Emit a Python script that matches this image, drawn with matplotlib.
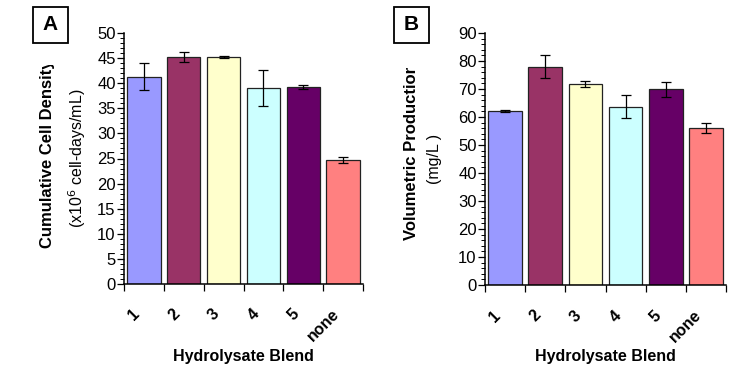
import matplotlib
matplotlib.use("Agg")
import matplotlib.pyplot as plt
from matplotlib.ticker import MultipleLocator
from matplotlib.patches import Rectangle
from matplotlib.transforms import Bbox

plt.rcParams['font.family'] = ['Liberation Sans', 'DejaVu Sans']

blends = ['1', '2', '3', '4', '5', 'none']
colors = ['#9999FF', '#993366', '#FFFFCC', '#CCFFFF', '#660066', '#FF8080']

# panel A: cumulative cell density
density = [41.3, 45.2, 45.2, 39.0, 39.2, 24.7]
density_err = [2.7, 0.95, 0.15, 3.55, 0.35, 0.6]

# panel B: volumetric production
production = [62.2, 78.0, 71.8, 63.7, 69.9, 56.0]
production_err = [0.3, 4.0, 1.0, 4.0, 2.65, 1.85]

fig = plt.figure(figsize=(7.39, 3.68), dpi=100)
W, H = 739, 368

def panel(left, right, top, bottom, vals, errs, ymax, major, minor,
          label, ylab1, ylab2, cy1, clip_top, x1, x2, box):
    ax = fig.add_axes([left / W, 1 - bottom / H, (right - left) / W, (bottom - top) / H])
    x = range(len(vals))
    ax.bar(x, vals, width=0.84, color=colors, edgecolor='#222222', linewidth=0.9, zorder=2)
    ax.errorbar(x, vals, yerr=errs, fmt='none', ecolor='black', elinewidth=0.9,
                capsize=3.5, capthick=0.9, zorder=3)
    ax.set_xlim(-0.5, len(vals) - 0.5)
    ax.set_ylim(0, ymax)
    ax.yaxis.set_major_locator(MultipleLocator(major))
    ax.yaxis.set_minor_locator(MultipleLocator(minor))
    ax.tick_params(axis='y', which='major', direction='out', length=5, width=0.9, labelsize=12, pad=1)
    ax.tick_params(axis='y', which='minor', direction='out', length=3, width=0.7)
    ax.set_xticks([i - 0.5 for i in range(len(vals) + 1)])
    ax.set_xticklabels([])
    ax.tick_params(axis='x', which='major', direction='out', length=5, width=0.9)
    for i, b in enumerate(blends):
        ax.text(i - 0.3, -0.09 * ymax, b, rotation=45, ha='right', va='top',
                rotation_mode='anchor', fontsize=11.5, fontweight='bold')
    for s in ['top', 'right']:
        ax.spines[s].set_visible(False)
    for s in ['left', 'bottom']:
        ax.spines[s].set_linewidth(1.1)
    fig.text((left + right) / 2 / W, 1 - 357 / H, 'Hydrolysate Blend', ha='center',
             va='center', fontsize=11.5, fontweight='bold')
    # y labels as two lines, first one clipped like the original text box
    t1 = fig.text(x1 / W, 1 - cy1 / H, ylab1, rotation=90, ha='center', va='center',
                  fontsize=12, fontweight='bold')
    t1.set_clip_box(Bbox.from_extents(0, 0, W, H - clip_top))
    t1.set_clip_on(True)
    fig.text(x2 / W, 1 - (top + bottom) / 2 / H, ylab2, rotation=90, ha='center',
             va='center', fontsize=11.5)
    fig.add_artist(Rectangle((box[0] / W, 1 - box[3] / H), (box[2] - box[0]) / W,
                             (box[3] - box[1]) / H, transform=fig.transFigure,
                             facecolor='white', edgecolor='black', linewidth=1.3))
    fig.text((box[0] + box[2]) / 2 / W, 1 - (box[1] + box[3]) / 2 / H, label,
             ha='center', va='center', fontsize=15, fontweight='bold')
    return ax

panel(124, 363, 33, 284, density, density_err, 50, 5, 1, 'A',
      'Cumulative Cell Density', r'(x10$^6$ cell-days/mL)', 154, 65, 48, 77, (33, 7, 68, 43))
panel(485, 726, 33, 285, production, production_err, 90, 10, 2, 'B',
      'Volumetric Production', '(mg/L )', 152, 68, 412, 435, (394, 7, 429, 43))

fig.savefig('out.png', dpi=100)
